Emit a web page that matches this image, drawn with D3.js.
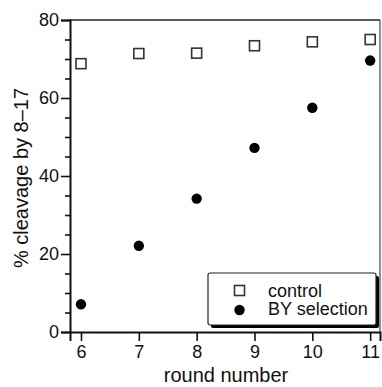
<!DOCTYPE html>
<html>
<head>
<meta charset="utf-8">
<script src="https://cdn.jsdelivr.net/npm/d3@7"></script>
<style>
body { margin:0; background:#fff; }
svg text { font-family:"Liberation Sans", Arial, sans-serif; fill:#111; }
</style>
</head>
<body>
<div id="chart"></div>
<script>
// data
const rounds = [6, 7, 8, 9, 10, 11];
const control = [68.8, 71.4, 71.5, 73.4, 74.4, 75.0];
const bySelection = [7.1, 22.1, 34.2, 47.2, 57.5, 69.6];
const yTicks = [0, 20, 40, 60, 80];
const yMinor = [5, 10, 15, 25, 30, 35, 45, 50, 55, 65, 70, 75];
const legendLabels = ["control", "BY selection"];

const W = 382, H = 387;
const pLeft = 70, pRight = 380, pTop = 20, pBottom = 332;

const svg = d3.select("#chart").append("svg")
.attr("width", W).attr("height", H);

const x = d3.scaleLinear().domain([5.81, 11.17]).range([pLeft, pRight]);
const y = d3.scaleLinear().domain([0, 80]).range([pBottom, pTop]);

// frame top + right (thin)
svg.append("line").attr("x1", pLeft).attr("x2", pRight).attr("y1", pTop).attr("y2", pTop)
.attr("stroke", "#222").attr("stroke-width", 1.5);
svg.append("line").attr("x1", pRight).attr("x2", pRight).attr("y1", pTop).attr("y2", pBottom)
.attr("stroke", "#444").attr("stroke-width", 1.2);

// y axis
const yAxis = svg.append("g").attr("transform", `translate(${pLeft},0)`)
.call(d3.axisLeft(y).tickValues(yTicks).tickSize(9).tickPadding(2));
yAxis.selectAll("text").style("font-size", "18px");
svg.append("g").attr("transform", `translate(${pLeft},0)`)
.call(d3.axisLeft(y).tickValues(yMinor).tickSize(5).tickFormat(""))
.select(".domain").remove();

// x axis
const xAxis = svg.append("g").attr("transform", `translate(0,${pBottom})`)
.call(d3.axisBottom(x).tickValues(rounds).tickSize(9).tickPadding(4).tickFormat(d3.format("d")));
xAxis.selectAll("text").style("font-size", "18px");

svg.selectAll(".domain").attr("stroke", "#111").attr("stroke-width", 2);
svg.selectAll(".tick line").attr("stroke", "#111").attr("stroke-width", 1.6);

// axis titles
svg.append("text").attr("x", (pLeft + pRight) / 2 + 1).attr("y", 382)
.attr("text-anchor", "middle").style("font-size", "20px").text("round number");
svg.append("text").attr("transform", `translate(28,${(pTop + pBottom) / 2 + 2}) rotate(-90)`)
.attr("text-anchor", "middle").style("font-size", "20px").text("% cleavage by 8\u201317");

// control squares
const sq = 10;
svg.selectAll(".ctrl").data(rounds).enter().append("rect")
.attr("class", "ctrl")
.attr("x", (d) => x(d) - sq / 2)
.attr("y", (d, i) => y(control[i]) - sq / 2)
.attr("width", sq).attr("height", sq)
.attr("fill", "#fff").attr("stroke", "#333").attr("stroke-width", 1.6);

// BY selection dots
svg.selectAll(".by").data(rounds).enter().append("circle")
.attr("class", "by")
.attr("cx", (d) => x(d))
.attr("cy", (d, i) => y(bySelection[i]))
.attr("r", 5.2).attr("fill", "#000");

// legend
const lg = svg.append("g").attr("transform", "translate(208,273)");
lg.append("rect").attr("x", 3).attr("y", 3).attr("width", 168).attr("height", 52)
.attr("rx", 2).attr("fill", "#000");
lg.append("rect").attr("width", 168).attr("height", 52).attr("rx", 2)
.attr("fill", "#fff").attr("stroke", "#222").attr("stroke-width", 1.2);
lg.append("rect").attr("x", 31.5 - sq / 2).attr("y", 17.5 - sq / 2)
.attr("width", sq).attr("height", sq)
.attr("fill", "#fff").attr("stroke", "#333").attr("stroke-width", 1.6);
lg.append("circle").attr("cx", 31.5).attr("cy", 37).attr("r", 5.2).attr("fill", "#000");
lg.selectAll(".lt").data(legendLabels).enter().append("text")
.attr("class", "lt")
.attr("x", 60).attr("y", (d, i) => 23.5 + i * 18.5)
.style("font-size", "18px").text((d) => d);
</script>
</body>
</html>
